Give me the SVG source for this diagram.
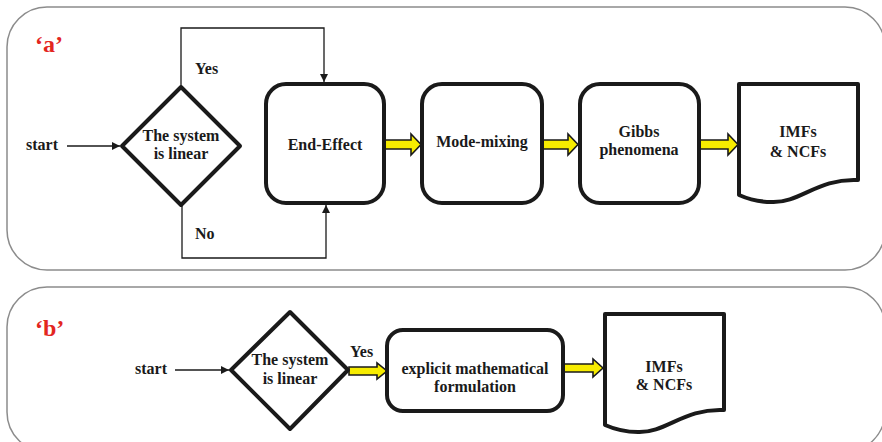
<svg xmlns="http://www.w3.org/2000/svg" xmlns:xlink="http://www.w3.org/1999/xlink" width="882" height="442" viewBox="0 0 882 442">
  <style>
    .panel { fill: #ffffff; stroke: #8c8c8c; stroke-width: 1.5; }
    .tag { font-family: "Liberation Serif", "Times New Roman", serif; font-weight: bold; font-size: 24px; fill: #e3261f; }
    .lbl { font-family: "Liberation Serif", "Times New Roman", serif; font-weight: bold; font-size: 16px; fill: #1a1a1a; }
    .mid { text-anchor: middle; }
    .shape { fill: #ffffff; stroke: #1a1a1a; stroke-width: 4; stroke-linejoin: round; }
    .wire { fill: none; stroke: #1a1a1a; stroke-width: 1.3; }
    .flow { fill: #f7ec00; stroke: #1a1a1a; stroke-width: 1.6; stroke-linejoin: miter; }
  </style>
  <defs>
    <marker id="tip" viewBox="0 0 10 10" refX="10" refY="5" markerWidth="8" markerHeight="8" markerUnits="userSpaceOnUse" orient="auto">
      <path d="M0,0 L10,5 L0,10 Z" fill="#1a1a1a"/>
    </marker>
    <!-- document shape: flat top, wavy bottom edge -->
    <path id="doc" d="M0,0 H119 V96 C79,94 61,119 33,118 C19,118 9,115 0,111 Z"/>
  </defs>

  <rect width="882" height="442" fill="#ffffff"/>

  <!-- panel frames -->
  <rect class="panel" x="7" y="7" width="878" height="263" rx="40" ry="40"/>
  <rect class="panel" x="7" y="287" width="878" height="165" rx="40" ry="40"/>
  <text class="tag" x="35" y="52">‘a’</text>
  <text class="tag" x="35" y="336">‘b’</text>

  <!-- connectors -->
  <g id="connectors">
    <path class="wire" d="M67,146 H120" marker-end="url(#tip)"/>
    <path class="wire" d="M181,87 V28 H324 V82" marker-end="url(#tip)"/>
    <path class="wire" d="M182,205 V258 H326 V205" marker-end="url(#tip)"/>
    <path class="flow" d="M385,140 H411 V134 L421,144.5 L411,155 V149 H385 Z"/>
    <path class="flow" d="M542,140 H568 V134 L578,144.5 L568,155 V149 H542 Z"/>
    <path class="flow" d="M700,140 H728 V134 L738,144.5 L728,155 V149 H700 Z"/>
    <path class="wire" d="M175,370 H229" marker-end="url(#tip)"/>
    <path class="flow" d="M349,367 H377 V363 L387,371 L377,379 V375 H349 Z"/>
    <path class="flow" d="M564,364 H593 V359 L603,368 L593,377 V372 H564 Z"/>
    <text class="lbl" x="195" y="74">Yes</text>
    <text class="lbl" x="195" y="239">No</text>
    <text class="lbl" x="350" y="357">Yes</text>
  </g>

  <!-- panel a -->
  <g id="a-start"><text class="lbl" x="26" y="150">start</text></g>
  <g id="a-decision">
    <polygon class="shape" points="181,87 240,146 181,205 122,146"/>
    <text class="lbl mid" x="181" y="141">The system</text>
    <text class="lbl mid" x="181" y="159">is linear</text>
  </g>
  <g id="a-end-effect">
    <rect class="shape" x="266" y="84" width="118" height="119" rx="20" ry="20"/>
    <text class="lbl mid" x="325" y="150">End-Effect</text>
  </g>
  <g id="a-mode-mixing">
    <rect class="shape" x="422" y="84" width="120" height="119" rx="20" ry="20"/>
    <text class="lbl mid" x="482" y="147">Mode-mixing</text>
  </g>
  <g id="a-gibbs">
    <rect class="shape" x="580" y="84" width="119" height="119" rx="20" ry="20"/>
    <text class="lbl mid" x="639" y="137">Gibbs</text>
    <text class="lbl mid" x="639" y="155">phenomena</text>
  </g>
  <g id="a-output">
    <use xlink:href="#doc" class="shape" x="739" y="84"/>
    <text class="lbl mid" x="798" y="137">IMFs</text>
    <text class="lbl mid" x="798" y="157">&amp; NCFs</text>
  </g>

  <!-- panel b -->
  <g id="b-start"><text class="lbl" x="135" y="374">start</text></g>
  <g id="b-decision">
    <polygon class="shape" points="290,312 348,370 290,429 231,370"/>
    <text class="lbl mid" x="290" y="365">The system</text>
    <text class="lbl mid" x="290" y="384">is linear</text>
  </g>
  <g id="b-formulation">
    <rect class="shape" x="387" y="330" width="176" height="81" rx="16" ry="16"/>
    <text class="lbl mid" x="475" y="374">explicit mathematical</text>
    <text class="lbl mid" x="475" y="392">formulation</text>
  </g>
  <g id="b-output">
    <use xlink:href="#doc" class="shape" x="605" y="314"/>
    <text class="lbl mid" x="664" y="372">IMFs</text>
    <text class="lbl mid" x="664" y="390">&amp; NCFs</text>
  </g>
</svg>
